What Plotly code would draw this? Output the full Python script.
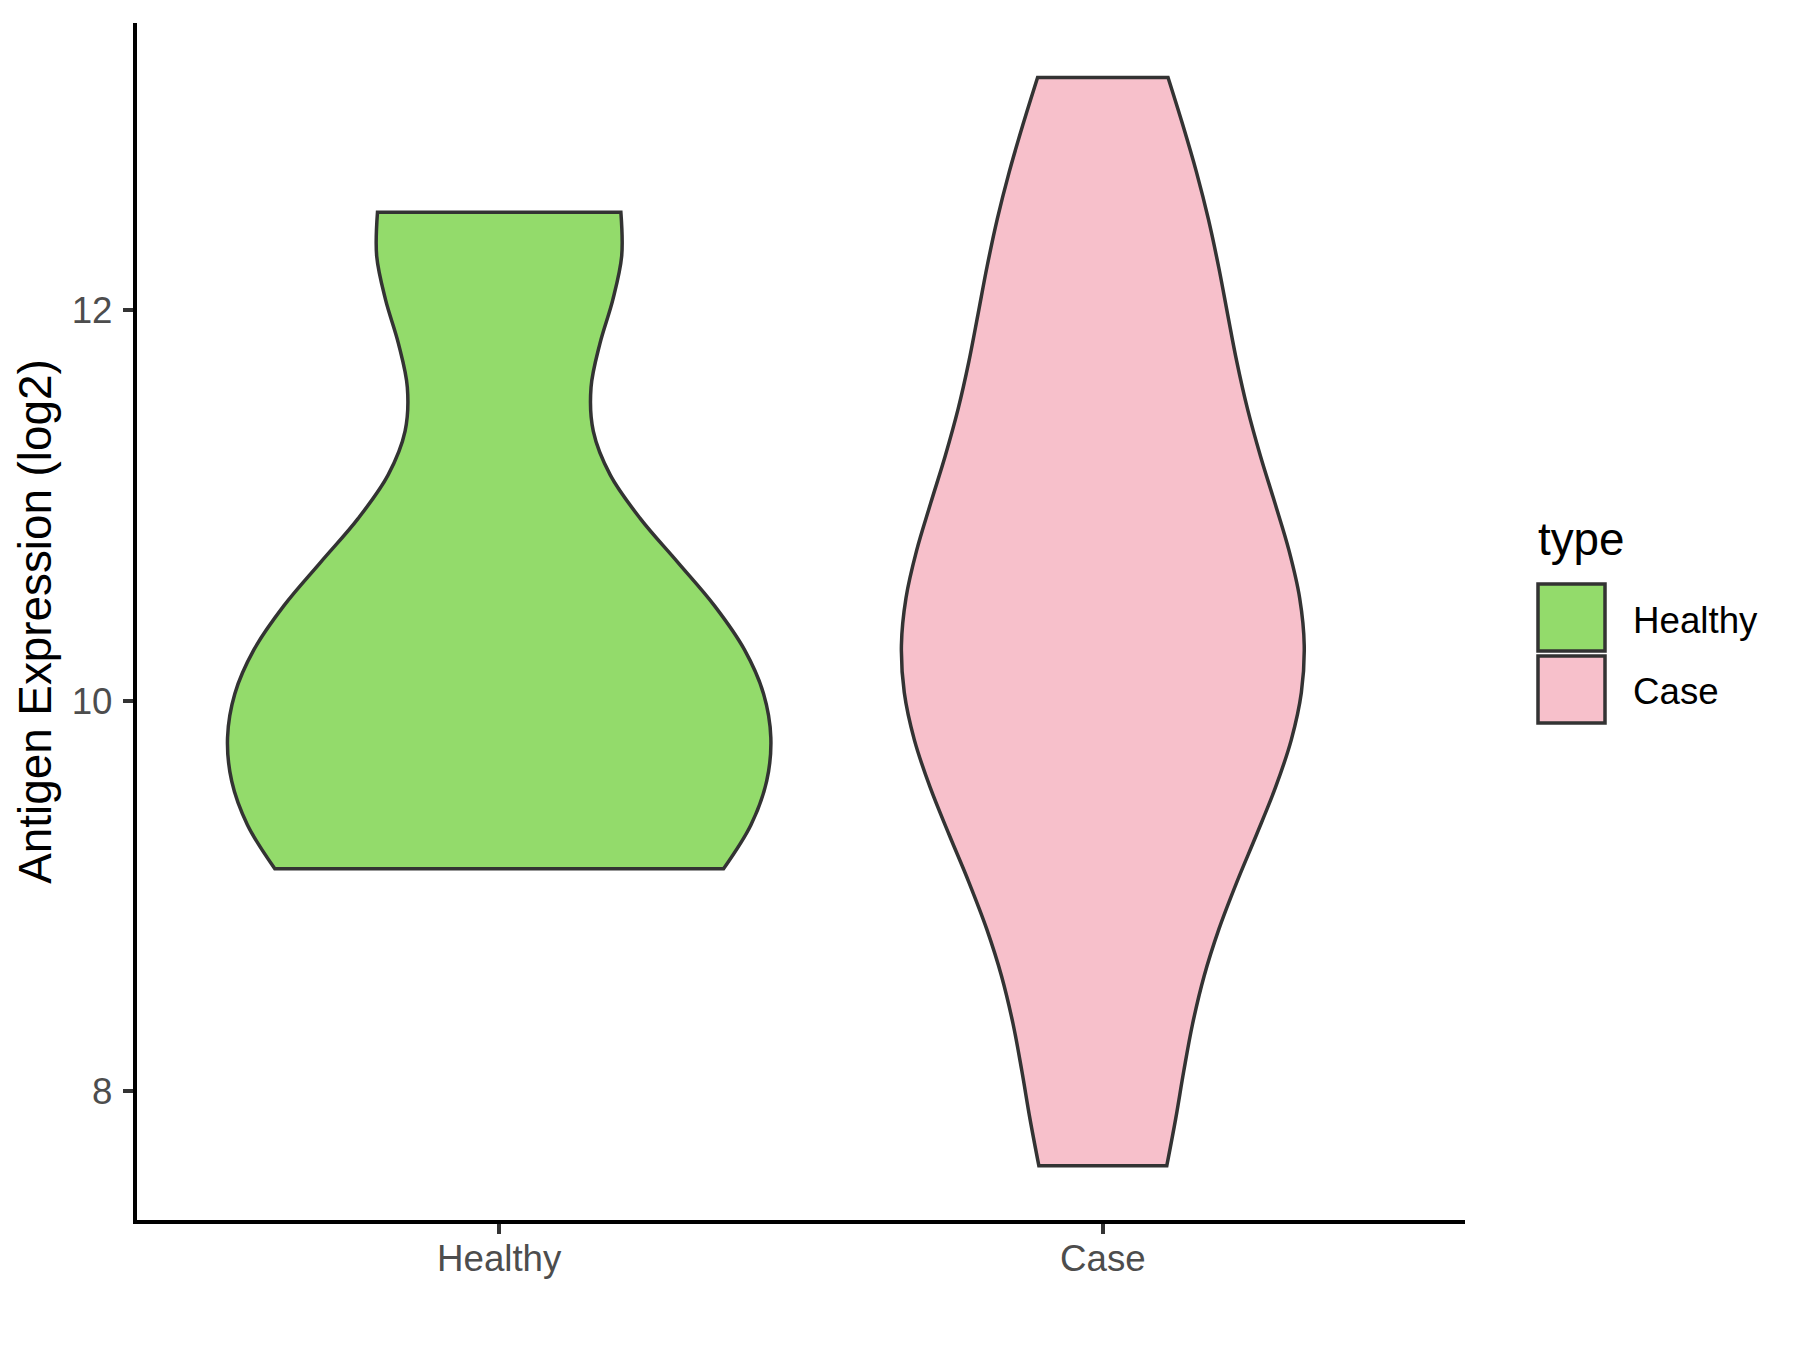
import numpy as np
import plotly.graph_objects as go

# ---------------- data ----------------
categories = ["Healthy", "Case"]
healthy_values = [9.14, 9.28, 9.30, 10.28, 10.30, 10.33, 12.31, 12.50]
case_values = [7.62, 7.90, 9.02, 9.10, 9.71, 9.77, 10.17, 10.24,
               10.42, 10.65, 10.89, 11.28, 11.94, 12.09, 12.55, 13.19]
bandwidths = [0.68, 0.75]
fill_colors = ["#93DB6B", "#F7C0CB"]
y_tick_values = [8, 10, 12]
y_title = "Antigen Expression (log2)"
legend_title = "type"

# ---------------- layout constants ----------------
W, H = 1800, 1350
BODY = 8  # default page margin of the html body
ML, MT = 129, 15
PW, PH = 1328, 1197
MR, MB = W - ML - PW, H - MT - PH
FONT = "Liberation Sans, Arial, Helvetica, sans-serif"
OUTLINE = "#333333"
FULL_WIDTH = 0.9


def px_x(px):
    return (px - BODY - ML) / PW


def px_y(py):
    return (MT + PH + BODY - py) / PH


def kde_peak(vals, bw):
    """Peak of the gaussian KDE over the data span (same estimator plotly uses)."""
    v = np.asarray(vals, dtype=float)
    t = np.linspace(v.min(), v.max(), 4000)
    dens = np.exp(-0.5 * ((t[:, None] - v[None, :]) / bw) ** 2).sum(axis=1)
    dens /= len(v) * bw * np.sqrt(2 * np.pi)
    return dens.max()


series = [healthy_values, case_values]
# ggplot2's scale="area": violin widths proportional to each group's density peak
peaks = [kde_peak(v, bw) for v, bw in zip(series, bandwidths)]
widths = [FULL_WIDTH * p / max(peaks) for p in peaks]

fig = go.Figure()
for cat, vals, bw, col, wd in zip(categories, series, bandwidths, fill_colors, widths):
    fig.add_trace(go.Violin(
        x=[cat] * len(vals),
        y=vals,
        name=cat,
        bandwidth=bw,
        spanmode="hard",
        scalemode="width",
        width=wd,
        fillcolor=col,
        opacity=1,
        line=dict(color=OUTLINE, width=3.5),
        points=False,
        box_visible=False,
        meanline_visible=False,
        hoverinfo="skip",
        showlegend=False,
    ))

# ---------------- manual legend (large keys like the reference) ----------------
shapes = []
annotations = []
annotations.append(dict(
    text=legend_title, xref="paper", yref="paper",
    x=px_x(1536), y=px_y(539), xanchor="left", yanchor="middle",
    showarrow=False, font=dict(family=FONT, size=45.8, color="black"),
))
key_tops = [584, 656]
text_centers = [620, 691]
for cat, col, top, tc in zip(categories, fill_colors, key_tops, text_centers):
    shapes.append(dict(
        type="rect", xref="paper", yref="paper",
        x0=px_x(1538), x1=px_x(1605), y0=px_y(top), y1=px_y(top + 67),
        fillcolor=col, line=dict(color=OUTLINE, width=3.5), layer="above",
    ))
    annotations.append(dict(
        text=cat, xref="paper", yref="paper",
        x=px_x(1631), y=px_y(tc), xanchor="left", yanchor="middle",
        showarrow=False, font=dict(family=FONT, size=36.7, color="black"),
    ))

fig.update_layout(
    width=W, height=H,
    margin=dict(l=ML, r=MR, t=MT, b=MB, pad=0),
    paper_bgcolor="white", plot_bgcolor="white",
    violinmode="overlay",
    showlegend=False,
    font=dict(family=FONT),
    shapes=shapes,
    annotations=annotations,
    xaxis=dict(
        type="category",
        categoryorder="array",
        categoryarray=categories,
        range=[-0.6, 1.6],
        showgrid=False, zeroline=False,
        showline=True, linecolor="black", linewidth=4.4,
        ticks="outside", ticklen=10, tickwidth=4.4, tickcolor=OUTLINE,
        tickfont=dict(family=FONT, size=36.7, color="#4D4D4D"),
        ticklabelstandoff=-7,
    ),
    yaxis=dict(
        range=[7.342, 13.469],
        tickvals=y_tick_values,
        ticktext=[str(v) for v in y_tick_values],
        showgrid=False, zeroline=False,
        showline=True, linecolor="black", linewidth=4.4,
        ticks="outside", ticklen=10, tickwidth=4.4, tickcolor=OUTLINE,
        tickfont=dict(family=FONT, size=36.7, color="#4D4D4D"),
        ticklabelstandoff=3,
        title=dict(text=y_title, font=dict(family=FONT, size=45.8, color="black"), standoff=7),
    ),
)

fig.write_html("out.html")
